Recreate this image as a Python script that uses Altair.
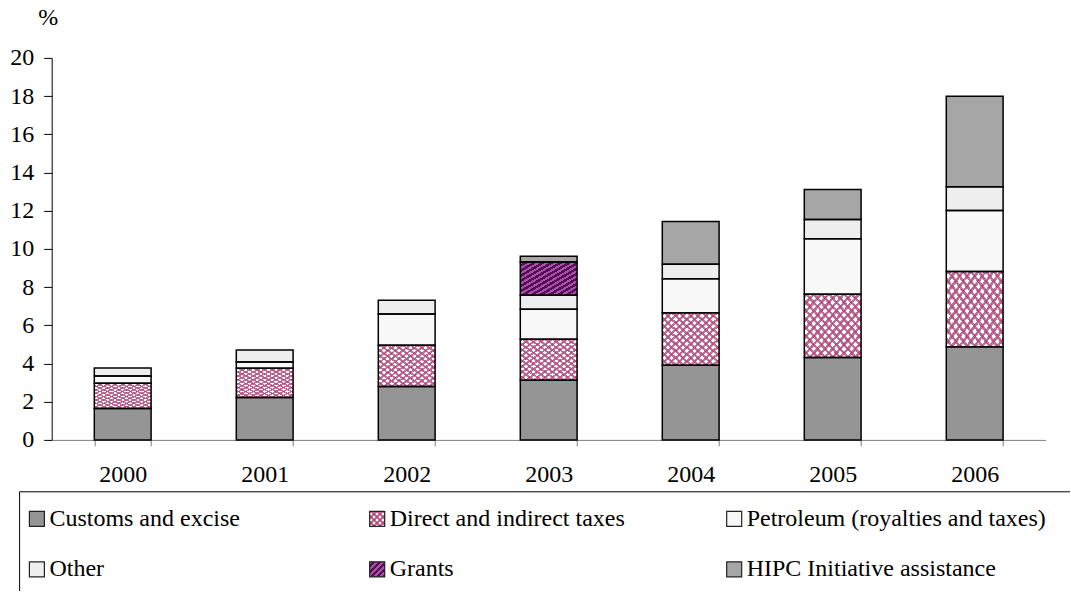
import altair as alt
import pandas as pd

# Revenue components by year, % of GDP (stacked from the bottom up)
years = ["2000", "2001", "2002", "2003", "2004", "2005", "2006"]
series = [
    "Customs and excise",
    "Direct and indirect taxes",
    "Petroleum (royalties and taxes)",
    "Other",
    "Grants",
    "HIPC Initiative assistance",
]
customs = [1.64, 2.22, 2.79, 3.12, 3.91, 4.31, 4.88]
direct = [1.33, 1.53, 2.16, 2.15, 2.75, 3.31, 3.93]
petroleum = [0.38, 0.33, 1.64, 1.57, 1.78, 2.91, 3.20]
other = [0.42, 0.63, 0.72, 0.73, 0.75, 1.01, 1.24]
grants = [0, 0, 0, 1.74, 0, 0, 0]
hipc = [0, 0, 0, 0.31, 2.25, 1.57, 4.74]
y_ticks = [0, 2, 4, 6, 8, 10, 12, 14, 16, 18, 20]

series_colors = ["#959595", "#ffffff", "#f8f8f8", "#eeeeee", "#5c085c", "#a6a6a6"]

FONT = "Liberation Serif"

rows = []
for k, (name, vals) in enumerate(zip(series, [customs, direct, petroleum, other, grants, hipc])):
    for yr, v in zip(years, vals):
        rows.append({"year": yr, "series": name, "order": k, "value": v})
df = pd.DataFrame(rows)

legend_df = pd.DataFrame({
    "series": series,
    "col": [i % 3 for i in range(len(series))],
    "row": [i // 3 for i in range(len(series))],
})


def stripes(rgb, alpha, n, frac, rising):
    """Hard-edged linear gradient that draws n diagonal hatch lines."""
    on = f"rgba({rgb[0]},{rgb[1]},{rgb[2]},{alpha})"
    off = f"rgba({rgb[0]},{rgb[1]},{rgb[2]},0)"
    stops = []
    for k in range(n):
        a, b, c = k / n, (k + frac) / n, (k + 1) / n
        stops += [
            {"offset": round(a, 5), "color": on},
            {"offset": round(b, 5), "color": on},
            {"offset": round(b, 5), "color": off},
            {"offset": round(c, 5), "color": off},
        ]
    if rising:
        return {"gradient": "linear", "x1": 0, "y1": 0, "x2": 1, "y2": 1, "stops": stops}
    return {"gradient": "linear", "x1": 1, "y1": 0, "x2": 0, "y2": 1, "stops": stops}


PINK = (178, 72, 122)
LILAC = (160, 88, 160)

color_scale = alt.Scale(domain=series, range=series_colors)

# ---------------- stacked bars ----------------
stacked = (
    alt.Chart(df)
    .transform_filter("datum.value > 0")
    .transform_stack(
        stack="value",
        groupby=["year"],
        as_=["y0", "y1"],
        sort=[alt.SortField("order", order="ascending")],
    )
)

x_enc = alt.X(
    "year:O",
    title=None,
    scale=alt.Scale(paddingInner=0.6, paddingOuter=0.3),
    axis=alt.Axis(
        labelAngle=0, tickBand="extent", grid=False,
        domainColor="#808080", tickColor="#808080", tickSize=6,
        labelPadding=17, labelFont=FONT, labelFontSize=24, labelColor="black",
    ),
)
y_enc = alt.Y(
    "y0:Q",
    scale=alt.Scale(domain=[0, 20], nice=False),
    axis=alt.Axis(
        values=y_ticks, grid=False,
        title="%", titleAngle=0, titleX=-4, titleY=-33,
        titleAlign="center", titleBaseline="alphabetic",
        titleFont=FONT, titleFontSize=24, titleFontWeight="normal", titleColor="black",
        domainColor="black", tickColor="black", tickSize=8,
        labelPadding=10, labelFont=FONT, labelFontSize=24, labelColor="black",
    ),
)
y2_enc = alt.Y2("y1:Q")

solid = stacked.mark_bar(opacity=1).encode(
    x=x_enc, y=y_enc, y2=y2_enc,
    fill=alt.Fill("series:N", scale=color_scale, legend=None),
)
direct_up = stacked.transform_filter(alt.datum.series == series[1]).mark_bar(
    opacity=1, fill=stripes(PINK, 0.8, 15, 0.42, True)
).encode(x=x_enc, y=y_enc, y2=y2_enc)
direct_down = stacked.transform_filter(alt.datum.series == series[1]).mark_bar(
    opacity=1, fill=stripes(PINK, 0.8, 15, 0.42, False)
).encode(x=x_enc, y=y_enc, y2=y2_enc)
grants_hatch = stacked.transform_filter(alt.datum.series == series[4]).mark_bar(
    opacity=1, fill=stripes(LILAC, 1, 13, 0.45, True)
).encode(x=x_enc, y=y_enc, y2=y2_enc)
outline = stacked.mark_bar(
    opacity=1, fillOpacity=0, stroke="black", strokeWidth=1.5
).encode(x=x_enc, y=y_enc, y2=y2_enc)

bars = alt.layer(solid, direct_up, direct_down, grants_hatch, outline).properties(
    width=994, height=382
)

# ---------------- legend box ----------------
# The box's top edge is the top axis line and its left edge the (offset) left
# axis line; the view is aligned with the plot above, so the box reaches left.
BOX_LEFT = -32.6
BOX_H = 99.5
lx = alt.X(
    "col:Q",
    scale=alt.Scale(domain=[-1, 0, 1, 2, 3], range=[BOX_LEFT, -14.8, 325.5, 682.5, 1017.7],
                    nice=False, zero=False),
    axis=alt.Axis(orient="top", labels=False, ticks=False, grid=False, title=None,
                  domainColor="black", domainWidth=1),
)
ly = alt.Y(
    "row:Q",
    scale=alt.Scale(domain=[-1, 0, 1, 2], range=[0, 27.5, 78, BOX_H], nice=False, zero=False),
    axis=alt.Axis(labels=False, ticks=False, grid=False, title=None,
                  domainColor="black", domainWidth=1, offset=-BOX_LEFT),
)

leg = alt.Chart(legend_df)
SW = 225
sw_solid = leg.mark_square(size=SW, opacity=1).encode(
    x=lx, y=ly, fill=alt.Fill("series:N", scale=color_scale, legend=None)
)
sw_direct_up = leg.transform_filter(alt.datum.series == series[1]).mark_square(
    size=SW, opacity=1, fill=stripes(PINK, 0.8, 5, 0.42, True)
).encode(x=lx, y=ly)
sw_direct_down = leg.transform_filter(alt.datum.series == series[1]).mark_square(
    size=SW, opacity=1, fill=stripes(PINK, 0.8, 5, 0.42, False)
).encode(x=lx, y=ly)
sw_grants = leg.transform_filter(alt.datum.series == series[4]).mark_square(
    size=SW, opacity=1, fill=stripes(LILAC, 1, 5, 0.45, True)
).encode(x=lx, y=ly)
sw_outline = leg.mark_square(
    size=SW, opacity=1, filled=False, stroke="#222222", strokeWidth=1.2
).encode(x=lx, y=ly)
sw_text = leg.mark_text(
    align="left", baseline="middle", dx=12.5, font=FONT, fontSize=24, color="black"
).encode(x=lx, y=ly, text="series:N")

legend_box = alt.layer(
    sw_solid, sw_direct_up, sw_direct_down, sw_grants, sw_outline, sw_text
).properties(width=1017.7, height=BOX_H)

# The axis layout reserves the full box span to the right of the view, so the
# canvas is trimmed back on the right by the same amount.
chart = (
    alt.vconcat(bars, legend_box, spacing=4.4)
    .properties(padding={"left": 9.7, "top": 5.9, "right": -33, "bottom": 0})
    .configure_view(stroke=None)
)

chart.save("out.html", embed_options={"renderer": "svg", "actions": False})
